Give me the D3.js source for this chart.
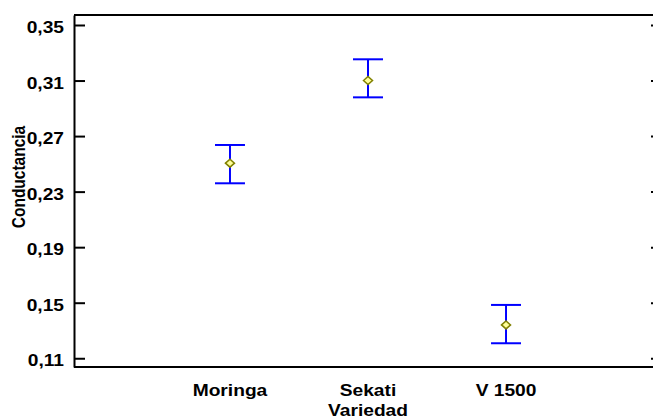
<!DOCTYPE html>
<html>
<head>
<meta charset="utf-8">
<script src="https://cdn.jsdelivr.net/npm/d3@7"></script>
<style>
  body { margin: 0; background: #fff; }
  svg { display: block; font-family: Arial, "Liberation Sans", sans-serif; }
</style>
</head>
<body>
<div id="chart"></div>
<script>
// data
var categories = ["Moringa", "Sekati", "V 1500"];
var means = [0.2505, 0.3100, 0.1340];
var upper = [0.2636, 0.3253, 0.1484];
var lower = [0.2360, 0.2979, 0.1208];
var yTicks = [0.11, 0.15, 0.19, 0.23, 0.27, 0.31, 0.35];

var width = 653, height = 419;
var plotLeft = 74, plotTop = 15, plotBottom = 367, plotRight = 656;
var sx = 1.2; // text looks horizontally stretched

var svg = d3.select("#chart").append("svg")
    .attr("width", width)
    .attr("height", height);

var y = d3.scaleLinear()
    .domain([0.1037, 0.3572])
    .range([plotBottom, plotTop]);

var x = d3.scalePoint()
    .domain(categories)
    .range([plotLeft, 662])
    .padding(1.13);

var fmt = function (d) { return d3.format(".2f")(d).replace(".", ","); };

// frame
svg.append("line").attr("x1", plotLeft).attr("x2", width).attr("y1", plotTop).attr("y2", plotTop)
    .attr("stroke", "#000").attr("stroke-width", 2);
svg.append("line").attr("x1", plotLeft).attr("x2", width).attr("y1", plotBottom).attr("y2", plotBottom)
    .attr("stroke", "#000").attr("stroke-width", 2);

// left axis, ticks inside
var yaxis = svg.append("g")
    .attr("transform", "translate(" + plotLeft + ",0)")
    .call(d3.axisLeft(y).tickValues(yTicks).tickSizeInner(-11).tickSizeOuter(0).tickFormat(fmt));
yaxis.select(".domain").attr("stroke-width", 2);
yaxis.selectAll(".tick line").attr("stroke-width", 2);
yaxis.selectAll(".tick text")
    .attr("x", -10 / sx)
    .attr("dy", "0.48em")
    .attr("transform", "scale(" + sx + ",1)")
    .style("font-size", "16px")
    .style("font-weight", "bold")
    .attr("fill", "#000");

// right axis, mostly off screen
var raxis = svg.append("g")
    .attr("transform", "translate(" + plotRight + ",0)")
    .call(d3.axisRight(y).tickValues(yTicks).tickSizeInner(-5).tickSizeOuter(0).tickFormat(""));
raxis.selectAll(".tick line").attr("stroke-width", 2);
raxis.select(".domain").attr("stroke-width", 2);

// category labels
svg.append("g").selectAll("text")
    .data(categories)
    .enter()
    .append("text")
    .attr("transform", function (d) { return "translate(" + x(d) + ",396) scale(" + sx + ",1)"; })
    .attr("text-anchor", "middle")
    .style("font-size", "16px")
    .style("font-weight", "bold")
    .text(function (d) { return d; });

// axis titles
svg.append("text")
    .attr("transform", "translate(" + x("Sekati") + ",416) scale(" + sx + ",1)")
    .attr("text-anchor", "middle")
    .style("font-size", "16px")
    .style("font-weight", "bold")
    .text("Variedad");

svg.append("text")
    .attr("transform", "translate(25,177) rotate(-90) scale(1," + sx + ")")
    .attr("text-anchor", "middle")
    .style("font-size", "15.5px")
    .style("font-weight", "bold")
    .text("Conductancia");

// error bars
var bars = svg.append("g").selectAll("g")
    .data(categories)
    .enter()
    .append("g");

bars.append("line")
    .attr("x1", function (d) { return x(d); })
    .attr("x2", function (d) { return x(d); })
    .attr("y1", function (d, i) { return y(upper[i]); })
    .attr("y2", function (d, i) { return y(lower[i]); })
    .attr("stroke", "#0000ff").attr("stroke-width", 2);
bars.append("line")
    .attr("x1", function (d) { return x(d) - 15; })
    .attr("x2", function (d) { return x(d) + 15; })
    .attr("y1", function (d, i) { return y(upper[i]); })
    .attr("y2", function (d, i) { return y(upper[i]); })
    .attr("stroke", "#0000ff").attr("stroke-width", 2);
bars.append("line")
    .attr("x1", function (d) { return x(d) - 15; })
    .attr("x2", function (d) { return x(d) + 15; })
    .attr("y1", function (d, i) { return y(lower[i]); })
    .attr("y2", function (d, i) { return y(lower[i]); })
    .attr("stroke", "#0000ff").attr("stroke-width", 2);

// mean markers
bars.append("path")
    .attr("d", function (d, i) {
        var cx = x(d), cy = y(means[i]);
        return "M" + (cx - 4.5) + "," + cy + "L" + cx + "," + (cy - 4) +
            "L" + (cx + 4.5) + "," + cy + "L" + cx + "," + (cy + 4) + "Z";
    })
    .attr("fill", "#ffff99")
    .attr("stroke", "#808000")
    .attr("stroke-width", 1.5);
</script>
</body>
</html>
